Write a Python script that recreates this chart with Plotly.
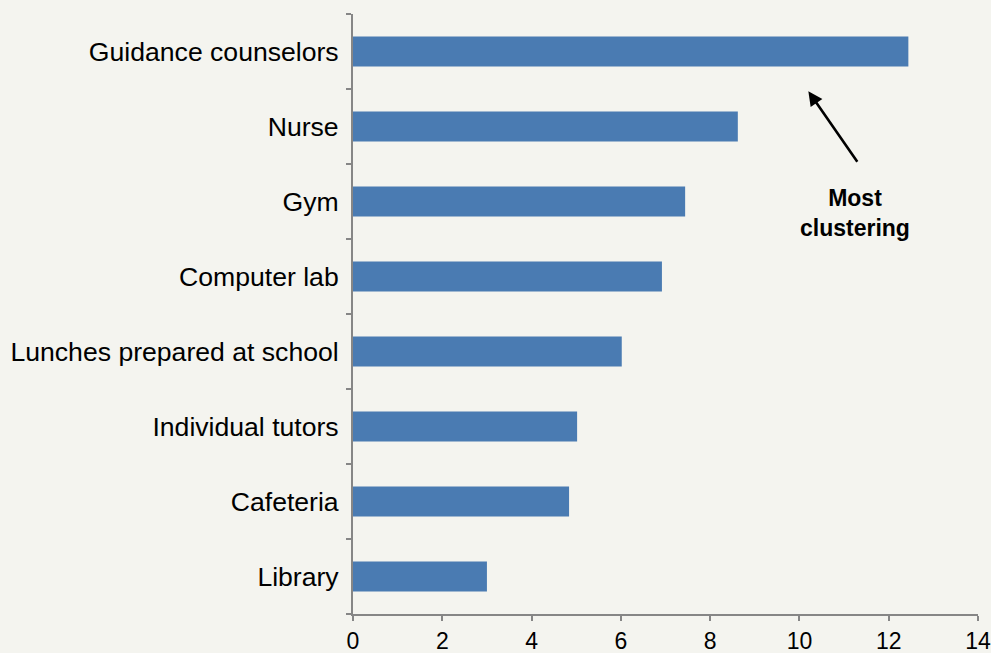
import plotly.graph_objects as go

# data (bottom to top)
categories = ["Library", "Cafeteria", "Individual tutors", "Lunches prepared at school",
              "Computer lab", "Gym", "Nurse", "Guidance counselors"]
values = [3.0, 4.84, 5.02, 6.02, 6.92, 7.44, 8.62, 12.44]
x_ticks = [0, 2, 4, 6, 8, 10, 12, 14]

BG = "#F4F4EF"
BAR = "#4A7BB2"
AXIS = "#868686"
FONT = "Liberation Sans, Arial, sans-serif"

fig = go.Figure()
fig.add_trace(go.Bar(x=values, y=categories, orientation="h",
                     marker=dict(color=BAR, line=dict(width=0))))

# arrow pointing at the top bar
fig.add_annotation(x=10.2, y=6.47, xref="x", yref="y", text="",
                   showarrow=True, ax=50, ay=72, arrowhead=2, arrowsize=1.1,
                   arrowwidth=2.6, arrowcolor="black")
fig.add_annotation(x=11.25, y=4.85, xref="x", yref="y", text="<b>Most<br>clustering</b>",
                   showarrow=False, font=dict(size=23, color="black", family=FONT),
                   align="center")

fig.update_layout(
    width=991, height=653,
    paper_bgcolor=BG, plot_bgcolor=BG,
    margin=dict(l=353, r=13, t=14, b=39),
    bargap=0.6, showlegend=False,
    font=dict(family=FONT, size=26.6, color="black"),
)
fig.update_xaxes(range=[0, 14], tickvals=x_ticks, showgrid=False, zeroline=False,
                 showline=True, linecolor=AXIS, linewidth=2, automargin=False,
                 ticks="outside", ticklen=5, tickwidth=2, tickcolor=AXIS,
                 tickfont=dict(size=23))
fig.update_yaxes(categoryorder="array", categoryarray=categories,
                 showgrid=False, zeroline=False, automargin=False,
                 showline=True, linecolor=AXIS, linewidth=2,
                 ticks="outside", tickson="boundaries", ticklen=5, tickwidth=2,
                 tickcolor=AXIS, ticklabelstandoff=7, tickfont=dict(size=26.6))

fig.write_html("out.html", config={"displayModeBar": False},
               post_script="document.body.style.margin='0';")
